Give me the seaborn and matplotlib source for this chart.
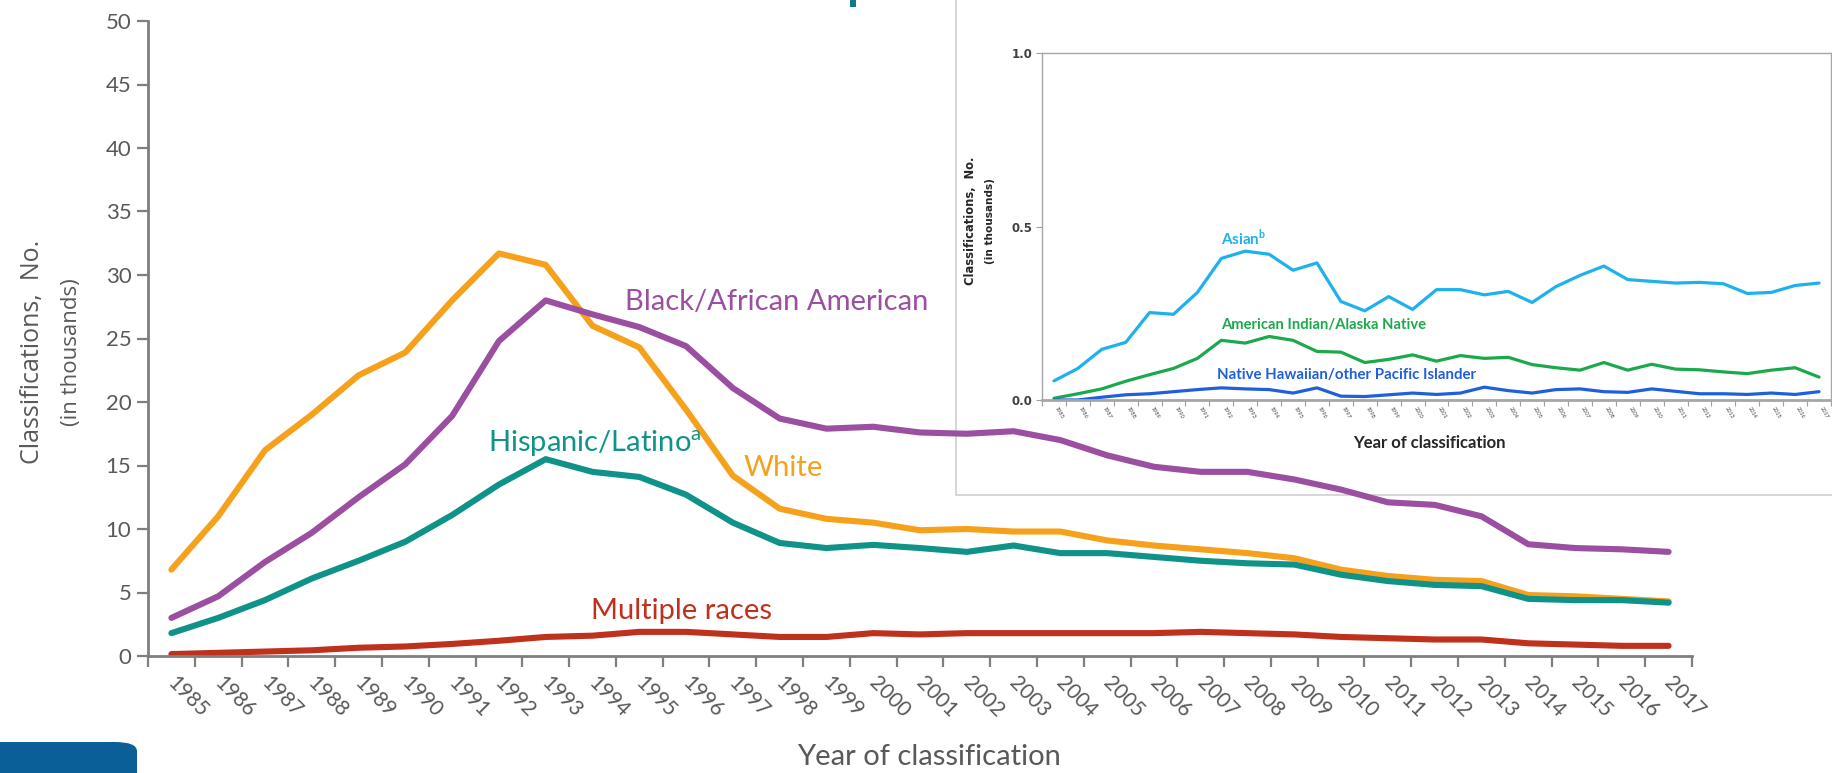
import matplotlib
matplotlib.use("Agg")
import matplotlib.pyplot as plt
import matplotlib.transforms as mtransforms
from matplotlib.patches import Rectangle, FancyBboxPatch
import pandas as pd
import seaborn as sns

# ─── Data (thousands of classifications) ─────────────────────────────────────
years = list(range(1985, 2018))

white = [6.8, 11.0, 16.2, 19.0, 22.1, 23.9, 28.0, 31.7, 30.8, 26.0, 24.3, 19.4,
         14.2, 11.6, 10.8, 10.5, 9.9, 10.0, 9.8, 9.8, 9.1, 8.7, 8.4, 8.1, 7.7,
         6.8, 6.3, 6.0, 5.9, 4.8, 4.7, 4.5, 4.3]
black = [3.0, 4.7, 7.4, 9.7, 12.5, 15.1, 18.9, 24.8, 28.0, 26.9, 25.9, 24.4,
         21.1, 18.7, 17.9, 18.05, 17.6, 17.5, 17.7, 17.0, 15.8, 14.9, 14.5, 14.5,
         13.9, 13.1, 12.1, 11.9, 11.0, 8.8, 8.5, 8.4, 8.2]
hispanic = [1.8, 3.0, 4.4, 6.1, 7.5, 9.0, 11.1, 13.5, 15.5, 14.5, 14.1, 12.7,
            10.5, 8.9, 8.5, 8.75, 8.5, 8.2, 8.7, 8.1, 8.1, 7.8, 7.5, 7.3, 7.2,
            6.4, 5.9, 5.6, 5.5, 4.5, 4.4, 4.4, 4.2]
multiple = [0.15, 0.25, 0.35, 0.45, 0.65, 0.75, 0.95, 1.2, 1.5, 1.6, 1.9, 1.9,
            1.7, 1.5, 1.5, 1.8, 1.7, 1.8, 1.8, 1.8, 1.8, 1.8, 1.9, 1.8, 1.7,
            1.5, 1.4, 1.3, 1.3, 1.0, 0.9, 0.8, 0.8]

asian = [0.055, 0.091, 0.146, 0.166, 0.252, 0.247, 0.31, 0.408, 0.429, 0.42,
         0.374, 0.395, 0.284, 0.257, 0.298, 0.261, 0.318, 0.318, 0.303, 0.313,
         0.281, 0.327, 0.359, 0.386, 0.347, 0.342, 0.337, 0.339, 0.335, 0.307,
         0.31, 0.33, 0.337]
aian = [0.005, 0.018, 0.032, 0.054, 0.073, 0.091, 0.12, 0.172, 0.164, 0.183,
        0.172, 0.14, 0.138, 0.108, 0.117, 0.13, 0.112, 0.128, 0.12, 0.123,
        0.102, 0.093, 0.086, 0.108, 0.086, 0.103, 0.089, 0.087, 0.081, 0.076,
        0.086, 0.093, 0.066]
nhpi = [0.0, 0.0, 0.008, 0.015, 0.018, 0.024, 0.03, 0.035, 0.032, 0.03, 0.02,
        0.035, 0.011, 0.01, 0.015, 0.02, 0.016, 0.02, 0.037, 0.027, 0.02, 0.03,
        0.032, 0.024, 0.022, 0.032, 0.025, 0.018, 0.018, 0.016, 0.02, 0.016,
        0.024]

main_groups = ["White", "Black/African American", "Hispanic/Latino", "Multiple races"]
main_colors = ["#F6A11C", "#9A4FA1", "#0F9389", "#C0311D"]
inset_groups = ["Asian", "American Indian/Alaska Native",
                "Native Hawaiian/other Pacific Islander"]
inset_colors = ["#1DB1EE", "#1BA94C", "#1F5FDC"]

GRAY = "#595959"

df_main = pd.DataFrame({
    "year": years * 4,
    "value": white + black + hispanic + multiple,
    "group": sum([[g] * len(years) for g in main_groups], []),
})
df_inset = pd.DataFrame({
    "year": years * 3,
    "value": asian + aian + nhpi,
    "group": sum([[g] * len(years) for g in inset_groups], []),
})

sns.set_theme(style="white")
plt.rcParams["font.family"] = ["Lato", "DejaVu Sans"]

fig = plt.figure(figsize=(18.33, 7.73), dpi=100)

# ─── Inset frame (drawn underneath the main lines) ───────────────────────────
box = Rectangle((956 / 1833, 1 - 495 / 773), 0.6, 0.7, transform=fig.transFigure,
                facecolor="white", edgecolor="#cfcfcf", linewidth=1.2, zorder=0)
fig.patches.append(box)

# ─── Main chart ──────────────────────────────────────────────────────────────
ax = fig.add_axes([148 / 1833, 1 - 656 / 773, 1544 / 1833, 635 / 773])
ax.set_facecolor("none")
ax.set_zorder(3)
sns.lineplot(data=df_main, x="year", y="value", hue="group",
             palette=dict(zip(main_groups, main_colors)), linewidth=4.4,
             legend=False, ax=ax)
ax.set_xlim(1984.5, 2017.5)
ax.set_ylim(0, 50)
ax.set_yticks(range(0, 51, 5))
ax.set_xticks(years)
ax.set_xticks([y + 0.5 for y in [1984] + years], minor=True)
ax.set_xticklabels([str(y) for y in years], rotation=-45, ha="left", va="top",
                   rotation_mode="default")
ax.tick_params(axis="x", which="major", length=0, pad=12, labelsize=15,
               labelcolor=GRAY)
ax.tick_params(axis="x", which="minor", length=8, width=1.6, color="#7f7f7f",
               direction="out", bottom=True)
ax.tick_params(axis="y", length=8, width=1.6, color="#7f7f7f", direction="out",
               left=True, labelsize=16, labelcolor=GRAY, pad=4)
shift = mtransforms.ScaledTranslation(-8 / 100, 0, fig.dpi_scale_trans)
for lab in ax.get_xticklabels():
    lab.set_transform(lab.get_transform() + shift)
for s in ["top", "right"]:
    ax.spines[s].set_visible(False)
for s in ["left", "bottom"]:
    ax.spines[s].set_color("#7f7f7f")
    ax.spines[s].set_linewidth(2)
ax.set_xlabel("")
ax.set_ylabel("")

ax.text(1994.69, 27.87, "Black/African American", color=main_colors[1],
        fontsize=21, ha="left", va="center")
ax.text(1991.77, 16.7, "Hispanic/Latino$^\\mathregular{a}$", color=main_colors[2],
        fontsize=21, ha="left", va="center")
ax.text(1997.22, 14.8, "White", color=main_colors[0], fontsize=21,
        ha="left", va="center")
ax.text(1993.97, 3.54, "Multiple races", color=main_colors[3], fontsize=21,
        ha="left", va="center")

fig.text(0.5068, 0.0207, "Year of classification", color=GRAY, fontsize=21,
         ha="center", va="center")
fig.text(33 / 1833, 1 - 352 / 773, "Classifications,  No.", color=GRAY,
         fontsize=18, rotation=90, ha="center", va="center",
         family=["Open Sans", "DejaVu Sans"])
fig.text(72 / 1833, 1 - 352 / 773, "(in thousands)", color=GRAY,
         fontsize=16, rotation=90, ha="center", va="center",
         family=["Open Sans", "DejaVu Sans"])

# ─── Inset chart ─────────────────────────────────────────────────────────────
axi = fig.add_axes([1042 / 1833, 1 - 400 / 773, 789 / 1833, 347 / 773])
axi.set_facecolor("none")
axi.set_zorder(1)
sns.lineplot(data=df_inset, x="year", y="value", hue="group",
             palette=dict(zip(inset_groups, inset_colors)), linewidth=2.3,
             legend=False, ax=axi)
axi.set_xlim(1984.5, 2017.5)
axi.set_ylim(0, 1.0)
axi.set_yticks([0.0, 0.5, 1.0])
axi.set_yticklabels(["0.0", "0.5", "1.0"])
axi.set_xticks(years)
axi.set_xticks([y + 0.5 for y in [1984] + years], minor=True)
axi.set_xticklabels([str(y) for y in years], rotation=-60, ha="left", va="top")
axi.tick_params(axis="x", which="major", length=0, pad=4, labelsize=4,
                labelcolor="#404040")
axi.tick_params(axis="x", which="minor", length=4, width=0.8, color="#a0a0a0",
                direction="out", bottom=True)
axi.tick_params(axis="y", length=4, width=0.8, color="#a0a0a0", direction="out",
                left=True, labelsize=8.5, labelcolor="#404040", pad=3)
for lab in axi.get_yticklabels():
    lab.set_fontweight("bold")
    lab.set_family(["DejaVu Sans"])
for s in ["top", "right", "left"]:
    axi.spines[s].set_color("#a6a6a6")
    axi.spines[s].set_linewidth(1.0)
axi.spines["bottom"].set_color("#a6a6a6")
axi.spines["bottom"].set_linewidth(2)
axi.set_xlabel("")
axi.set_ylabel("")

axi.text(1992.0, 0.467, "Asian$^\\mathregular{b}$", color=inset_colors[0],
         fontsize=11, fontweight="bold", ha="left", va="center")
axi.text(1992.0, 0.216, "American Indian/Alaska Native", color=inset_colors[1],
         fontsize=10.6, fontweight="bold", ha="left", va="center")
axi.text(1991.8, 0.072, "Native Hawaiian/other Pacific Islander",
         color=inset_colors[2], fontsize=10.8, fontweight="bold", ha="left",
         va="center")

fig.text(1429 / 1833, 1 - 443 / 773, "Year of classification", color="#262626",
         fontsize=12, fontweight="bold", ha="center", va="center")
fig.text(971 / 1833, 1 - 221 / 773, "Classifications,  No.", color="#262626",
         fontsize=8.3, fontweight="bold", rotation=90, ha="center", va="center",
         family=["DejaVu Sans"])
fig.text(990 / 1833, 1 - 221 / 773, "(in thousands)", color="#262626",
         fontsize=7.6, fontweight="bold", rotation=90, ha="center", va="center",
         family=["DejaVu Sans"])

# logo corner and title remnant
logo = FancyBboxPatch((-0.02, -0.05), 137 / 1833 + 0.02, (773 - 742) / 773 + 0.05,
                      boxstyle="round,pad=0,rounding_size=0.012",
                      transform=fig.transFigure, facecolor="#0B5F98",
                      edgecolor="none", zorder=5)
fig.patches.append(logo)
fig.patches.append(Rectangle((850 / 1833, 1 - 7 / 773), 6 / 1833, 0.02,
                             transform=fig.transFigure, facecolor="#0E7A8C",
                             edgecolor="none"))

fig.savefig("out.png", dpi=100)
